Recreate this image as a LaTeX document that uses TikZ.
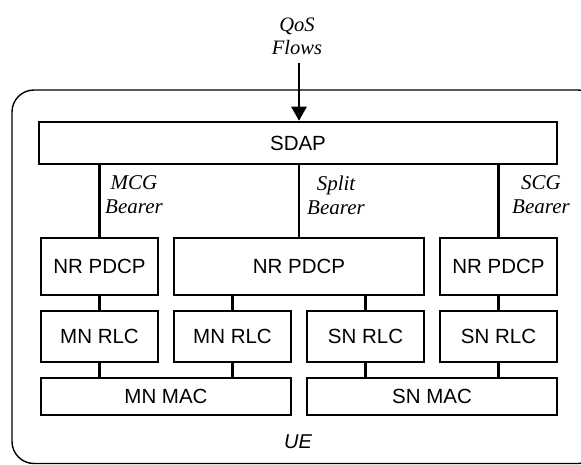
\documentclass[tikz,border=0pt]{standalone}
\usepackage{fontspec}
\setmainfont{Liberation Sans}
\newfontfamily\tnr{Liberation Serif}
\usetikzlibrary{arrows.meta}
\begin{document}
\begin{tikzpicture}[x=1pt,y=-1pt,
  box/.style={draw,line width=2.5pt,inner sep=0pt,font=\fontsize{20.5}{24}\selectfont},
  conn/.style={line width=2.2pt},
  lbl/.style={align=center,inner sep=0pt,font=\tnr\itshape\fontsize{21}{24}\selectfont}]
\useasboundingbox (0,0) rectangle (581,465);
% UE container
\draw[line width=1.4pt,rounded corners=22pt] (12,90) rectangle (600,463.5);
\node[font=\itshape\fontsize{20}{24}\selectfont,anchor=base] (ue) at (298,448) {UE};
% SDAP
\node[box,minimum width=518pt,minimum height=42pt] (sdap) at (298,143) {SDAP};
% PDCP row
\node[box,minimum width=117pt,minimum height=57pt] (p1) at (99.5,266.5) {NR PDCP};
\node[box,minimum width=250pt,minimum height=57pt] (p2) at (299,266.5) {NR PDCP};
\node[box,minimum width=117pt,minimum height=57pt] (p3) at (498.5,266.5) {NR PDCP};
% RLC row
\node[box,minimum width=117pt,minimum height=51pt] (r1) at (99.5,336.5) {MN RLC};
\node[box,minimum width=117pt,minimum height=51pt] (r2) at (232.5,336.5) {MN RLC};
\node[box,minimum width=117pt,minimum height=51pt] (r3) at (365.5,336.5) {SN RLC};
\node[box,minimum width=117pt,minimum height=51pt] (r4) at (498.5,336.5) {SN RLC};
% MAC row
\node[box,minimum width=250pt,minimum height=37pt] (m1) at (166,396.5) {MN MAC};
\node[box,minimum width=250pt,minimum height=37pt] (m2) at (432,396.5) {SN MAC};
% QoS flows
\node[lbl,font=\tnr\itshape\fontsize{20.5}{23}\selectfont] (qos) at (297,36.5) {QoS\\Flows};
\coordinate (qin) at (299,63);
\draw[line width=2.5pt,-{Triangle[length=14pt,width=15pt]}] (qin) -- (sdap.north -| qin);
% bearers
\draw[conn] (sdap.south -| p1.north) -- (p1.north);
\draw[conn] (sdap.south -| p2.north) -- (p2.north);
\draw[conn] (sdap.south -| p3.north) -- (p3.north);
\node[lbl] (mcg) at (134,195) {MCG\\Bearer};
\node[lbl] (split) at (336,195) {Split\\Bearer};
\node[lbl] (scg) at (541,195) {SCG\\Bearer};
% PDCP to RLC
\draw[conn] (p1.south) -- (r1.north);
\draw[conn] (p2.south -| r2.north) -- (r2.north);
\draw[conn] (p2.south -| r3.north) -- (r3.north);
\draw[conn] (p3.south) -- (r4.north);
% RLC to MAC
\draw[conn] (r1.south) -- (r1.south |- m1.north);
\draw[conn] (r2.south) -- (r2.south |- m1.north);
\draw[conn] (r3.south) -- (r3.south |- m2.north);
\draw[conn] (r4.south) -- (r4.south |- m2.north);
\end{tikzpicture}
\end{document}
